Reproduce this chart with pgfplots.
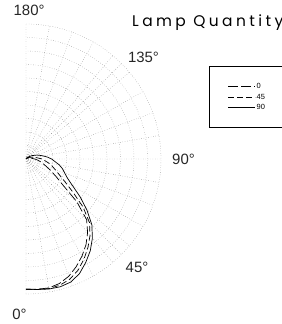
\documentclass[border=0pt]{standalone}
\usepackage{fontspec}
\setmainfont{Liberation Sans}
\newfontfamily\titlefont[LetterSpace=22]{Poppins}
\usepackage{pgfplots}
\usepgfplotslibrary{polar}
\pgfplotsset{compat=1.18}
\usepackage{pgfplotstable}

% angle measured from nadir (0 = down, 90 = horizontal, 180 = up), relative intensity
\pgfplotstableread{
a r
0 0.965
5 0.968
10 0.970
15 0.955
20 0.925
25 0.880
30 0.830
35 0.775
40 0.710
45 0.635
50 0.490
55 0.330
60 0.255
65 0.200
70 0.160
75 0.130
80 0.105
85 0.085
90 0.065
100 0.035
110 0.018
130 0.006
180 0.0
}\curveZero

\pgfplotstableread{
a r
0 0.965
5 0.970
10 0.975
15 0.968
20 0.948
25 0.910
30 0.858
35 0.800
40 0.738
45 0.665
50 0.550
55 0.420
60 0.330
65 0.270
70 0.230
75 0.200
80 0.170
85 0.140
90 0.120
100 0.070
110 0.040
130 0.015
180 0.0
}\curveFortyFive

\pgfplotstableread{
a r
0 0.965
5 0.970
10 0.978
15 0.980
20 0.970
25 0.937
30 0.885
35 0.830
40 0.765
45 0.690
50 0.590
55 0.490
60 0.400
65 0.340
70 0.305
75 0.280
80 0.250
85 0.215
90 0.190
95 0.160
100 0.130
105 0.105
110 0.085
120 0.050
130 0.025
150 0.010
180 0.0
}\curveNinety

\begin{document}
\begin{tikzpicture}[x=1bp,y=1bp]
\path[use as bounding box] (0,0) rectangle (282,324);
\clip (0,0) rectangle (282,324);
\begin{polaraxis}[
  at={(26bp,165bp)}, anchor=origin,
  scale only axis, width=270bp, height=270bp,
  clip=false,
  xmin=-90, xmax=90, ymin=0, ymax=1,
  xtick={-90,-45,0,45,90},
  xticklabels={},
  minor xtick={-80,-70,-60,-50,-40,-30,-20,-10,10,20,30,40,50,60,70,80},
  ytick={0.1,0.2,0.3,0.4,0.5,0.6,0.7,0.8,0.9,1.0},
  yticklabels={},
  grid=both,
  major grid style={black!55, dotted, line width=0.4pt},
  minor grid style={black!55, dotted, line width=0.4pt},
  axis line style={draw=none},
  major tick length=0pt, minor tick length=0pt,
  legend style={at={(1.356,0.843)}, anchor=north west, draw=black, line width=0.7pt,
    font=\fontsize{7.5}{8}\selectfont, inner xsep=18.5bp, inner ysep=15.5bp,
    row sep=1.5bp, nodes={inner sep=1bp, text height=5.5bp, text depth=1.5bp}},
  legend cell align=left,
  legend image code/.code={\draw[#1] (0bp,0bp) -- (27bp,0bp);},
]
\addplot[black, line width=0.7pt, dash pattern=on 10bp off 3bp, no markers] table[x expr=\thisrow{a}-90, y=r] {\curveZero};
\addlegendentry{0}
\addplot[black, line width=0.7pt, dash pattern=on 6bp off 3bp, no markers] table[x expr=\thisrow{a}-90, y=r] {\curveFortyFive};
\addlegendentry{45}
\addplot[black, line width=0.7pt, no markers] table[x expr=\thisrow{a}-90, y=r] {\curveNinety};
\addlegendentry{90}
% angle labels
\begin{scope}[every node/.style={font=\fontsize{15}{17}\selectfont, text=black!85, inner sep=0pt, anchor=center}]
\node at (axis cs:88.8,1.104) {180°};
\node at (axis cs:40.8,1.150) {135°};
\node at (axis cs:0,1.167) {90°};
\node at (axis cs:-44.2,1.147) {45°};
\node at (axis cs:-92.4,1.149) {0°};
\end{scope}
\end{polaraxis}
\node[anchor=base west, inner sep=0pt, font=\titlefont\fontsize{15.5}{17}\selectfont] at (132,298) {Lamp Quantity};
\end{tikzpicture}
\end{document}
